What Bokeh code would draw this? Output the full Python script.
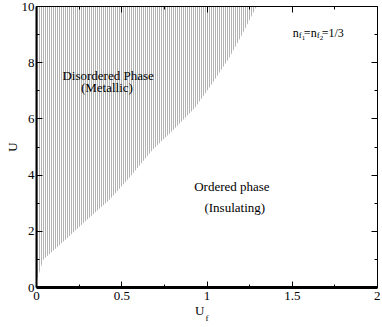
from bokeh.plotting import figure
from bokeh.models import Range1d, LinearAxis, FixedTicker, Label
from bokeh.embed import file_html
from bokeh.resources import INLINE

# phase boundary U_c(U_f)
uf = [0.0, 0.006, 0.04, 0.17, 0.30, 0.43, 0.55, 0.68, 0.80, 0.93, 1.03, 1.13, 1.21, 1.29]
u = [0.0, 0.32, 1.0, 1.7, 2.43, 3.13, 3.94, 4.89, 5.6, 6.4, 7.25, 8.17, 9.05, 10.0]
u_top = [10.0] * len(uf)

x_ticks = [0, 0.5, 1, 1.5, 2]
x_tick_labels = ["0", "0.5", "1", "1.5", "2"]
x_minor = [0.25, 0.75, 1.25, 1.75]
y_ticks = [0, 2, 4, 6, 8, 10]
y_tick_labels = ["0", "2", "4", "6", "8", "10"]
y_minor = [1, 3, 5, 7, 9]

FONT = "Liberation Serif"

def set_standoff(obj, name, val):
    try:
        setattr(obj, name, val)
    except Exception:
        setattr(obj, name, 0)

p = figure(width=380, height=325, x_range=Range1d(0, 2), y_range=Range1d(0, 10),
           output_backend="svg", toolbar_location=None,
           min_border_left=36, min_border_right=3, min_border_top=6, min_border_bottom=36,
           x_axis_location=None, y_axis_location=None)
p.grid.visible = False
p.outline_line_color = None

p.varea(x=uf, y1=u, y2=u_top, fill_alpha=0, hatch_pattern="vertical_line",
        hatch_color="#666666", hatch_weight=1, hatch_scale=2)

def mk_axis(loc, ticks, labels, minor, show_labels, lw):
    ax = LinearAxis(ticker=FixedTicker(ticks=ticks, minor_ticks=minor))
    ax.major_tick_in = 6
    ax.major_tick_out = 0
    ax.minor_tick_in = 3
    ax.minor_tick_out = 0
    ax.axis_line_width = lw
    ax.axis_line_color = "black"
    ax.major_tick_line_color = "black"
    ax.minor_tick_line_color = "black"
    ax.major_tick_line_width = 1
    ax.minor_tick_line_width = 1
    if show_labels:
        ax.major_label_overrides = {t: l for t, l in zip(ticks, labels)}
        ax.major_label_text_font = FONT
        ax.major_label_text_font_size = "13px"
        ax.major_label_text_color = "black"
        ax.major_label_standoff = 4
    else:
        ax.major_label_overrides = {t: "" for t in ticks}
        ax.major_label_standoff = 0
    p.add_layout(ax, loc)
    return ax

bx = mk_axis("below", x_ticks, x_tick_labels, x_minor, True, 3)
ly = mk_axis("left", y_ticks, y_tick_labels, y_minor, True, 2)
ly.major_label_standoff = 2
ly.axis_label = "U"
ly.axis_label_text_font = FONT
ly.axis_label_text_font_style = "normal"
ly.axis_label_text_font_size = "13px"
ly.axis_label_text_color = "black"
set_standoff(ly, "axis_label_standoff", -1)
mk_axis("above", x_ticks, x_tick_labels, x_minor, False, 1)
mk_axis("right", y_ticks, y_tick_labels, y_minor, False, 1)

# x-axis title U_f: "U" as a label of an extra bare axis, "f" as its axis label
u_pos = 0.957
xt = LinearAxis(ticker=FixedTicker(ticks=[u_pos], minor_ticks=[]))
xt.major_label_overrides = {u_pos: "U"}
xt.major_label_text_font = FONT
xt.major_label_text_font_size = "13px"
xt.major_label_text_color = "black"
xt.major_label_standoff = 0
xt.major_tick_in = 0
xt.major_tick_out = 0
xt.minor_tick_in = 0
xt.minor_tick_out = 0
xt.axis_line_color = None
xt.major_tick_line_color = None
xt.minor_tick_line_color = None
xt.axis_label = "f"
xt.axis_label_text_font = FONT
xt.axis_label_text_font_style = "normal"
xt.axis_label_text_font_size = "9px"
xt.axis_label_text_color = "black"
set_standoff(xt, "axis_label_standoff", -8)
p.add_layout(xt, "below")

def lab(x, y, text, size, xo=0, yo=0, align="left", baseline="alphabetic"):
    p.add_layout(Label(x=x, y=y, text=text, x_offset=xo, y_offset=yo,
                       text_font=FONT, text_font_size=size, text_align=align,
                       text_baseline=baseline, text_color="black"))

lab(0.42, 7.53, "Disordered Phase", "13px", align="center", baseline="middle")
lab(0.413, 7.10, "(Metallic)", "13px", align="center", baseline="middle")
lab(1.146, 3.59, "Ordered phase", "13px", align="center", baseline="middle")
lab(1.163, 2.84, "(Insulating)", "13px", align="center", baseline="middle")

# n_{f1}=n_{f2}=1/3
lab(1.503, 9.06, "n", "12px", 0, 0)
lab(1.503, 9.06, "f", "9px", 6, -2)
lab(1.503, 9.06, "1", "7px", 9, -5)
lab(1.503, 9.06, "=", "12px", 11, 0)
lab(1.503, 9.06, "n", "12px", 18, 0)
lab(1.503, 9.06, "f", "9px", 24, -2)
lab(1.503, 9.06, "2", "7px", 27, -5)
lab(1.503, 9.06, "=1/3", "12px", 29, 0)

open("out.html", "w").write(file_html(p, INLINE))
